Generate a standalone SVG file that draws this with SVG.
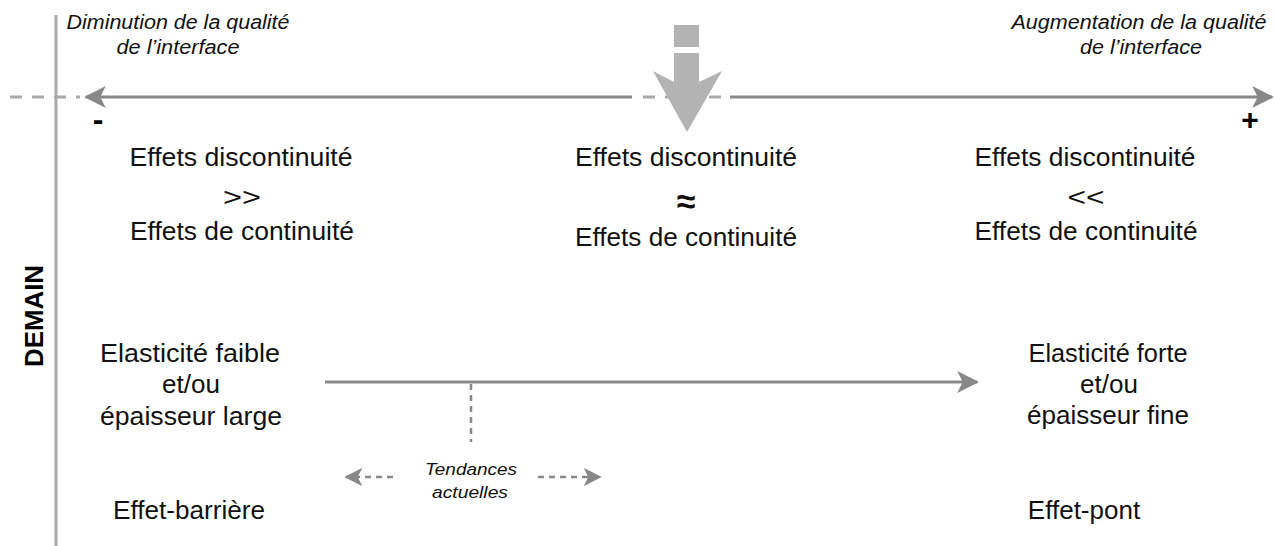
<svg xmlns="http://www.w3.org/2000/svg" width="1276" height="546" viewBox="0 0 1276 546">
<style>
.t{font-family:"Liberation Sans",Arial,sans-serif;font-size:26px;fill:#111;text-anchor:middle}
.i{font-family:"Liberation Sans",Arial,sans-serif;font-size:20px;font-style:italic;fill:#111;text-anchor:middle}
.b{font-family:"Liberation Sans",Arial,sans-serif;font-weight:bold;fill:#000;text-anchor:middle}
.axis{stroke:#888;stroke-width:3;fill:none}
.dash{stroke:#aaa;stroke-width:3;fill:none;stroke-dasharray:12 10}
.tdash{stroke:#888;stroke-width:2.5;fill:none;stroke-dasharray:6 5}
</style>
<defs>
<marker id="ah" viewBox="0 0 20 20" refX="18" refY="10" markerWidth="22" markerHeight="22" markerUnits="userSpaceOnUse" orient="auto">
<path d="M0,0 L20,10 L0,20 L5,10 Z" fill="#888"/>
</marker>
<marker id="ahs" viewBox="0 0 20 20" refX="18" refY="10" markerWidth="18" markerHeight="18" markerUnits="userSpaceOnUse" orient="auto">
<path d="M0,0 L20,10 L0,20 L5,10 Z" fill="#888"/>
</marker>
</defs>
<g id="frame">
<line x1="56" y1="15" x2="56" y2="546" stroke="#aaa" stroke-width="3"/>
</g>
<g id="connectors">
<line class="dash" x1="10" y1="97" x2="80" y2="97"/>
<line class="axis" x1="632" y1="97" x2="86" y2="97" marker-end="url(#ah)"/>
<line class="dash" x1="643" y1="97" x2="728" y2="97" stroke-dasharray="12 62"/>
<line class="axis" x1="730" y1="97" x2="1272" y2="97" marker-end="url(#ah)"/>
<line class="axis" x1="325" y1="382" x2="977" y2="382" marker-end="url(#ah)"/>
<line class="tdash" x1="471" y1="384" x2="471" y2="442"/>
<line class="tdash" x1="393" y1="477" x2="346" y2="477" marker-end="url(#ahs)"/>
<line class="tdash" x1="538" y1="477" x2="600" y2="477" marker-end="url(#ahs)"/>
</g>
<g id="big-arrow" fill="#b3b3b3">
<rect x="674" y="25" width="25" height="22"/>
<polygon points="674,53 699,53 699,82 722,71 687,132 653,71 674,82"/>
</g>
<g id="label-minus">
<text class="i" x="178" y="29" textLength="223" lengthAdjust="spacingAndGlyphs">Diminution de la qualité</text>
<text class="i" x="178" y="54" textLength="123" lengthAdjust="spacingAndGlyphs">de l’interface</text>
<text class="b" x="98" y="130" font-size="32">-</text>
</g>
<g id="label-plus">
<text class="i" x="1139" y="29" textLength="255" lengthAdjust="spacingAndGlyphs">Augmentation de la qualité</text>
<text class="i" x="1141" y="54" textLength="122" lengthAdjust="spacingAndGlyphs">de l’interface</text>
<text class="b" x="1250" y="130" font-size="30">+</text>
</g>
<g id="demain">
<text class="b" font-size="25" transform="translate(43,316) rotate(-90)" x="0" y="0" textLength="102" lengthAdjust="spacingAndGlyphs">DEMAIN</text>
</g>
<g id="left-effects">
<text class="t" x="241" y="166" textLength="223" lengthAdjust="spacingAndGlyphs">Effets discontinuité</text>
<text class="t" x="242" y="206" textLength="38" lengthAdjust="spacingAndGlyphs">&gt;&gt;</text>
<text class="t" x="242" y="240" textLength="224" lengthAdjust="spacingAndGlyphs">Effets de continuité</text>
</g>
<g id="middle-effects">
<text class="t" x="686" y="166" textLength="222" lengthAdjust="spacingAndGlyphs">Effets discontinuité</text>
<text class="t" x="686" y="213" font-weight="bold" style="font-size:34px">≈</text>
<text class="t" x="686" y="246" textLength="222" lengthAdjust="spacingAndGlyphs">Effets de continuité</text>
</g>
<g id="right-effects">
<text class="t" x="1085" y="166" textLength="221" lengthAdjust="spacingAndGlyphs">Effets discontinuité</text>
<text class="t" x="1086" y="206" textLength="37" lengthAdjust="spacingAndGlyphs">&lt;&lt;</text>
<text class="t" x="1086" y="240" textLength="223" lengthAdjust="spacingAndGlyphs">Effets de continuité</text>
</g>
<g id="left-elasticity">
<text class="t" x="190" y="362" textLength="180" lengthAdjust="spacingAndGlyphs">Elasticité faible</text>
<text class="t" x="191" y="393">et/ou</text>
<text class="t" x="191" y="425" textLength="182" lengthAdjust="spacingAndGlyphs">épaisseur large</text>
</g>
<g id="right-elasticity">
<text class="t" x="1108" y="362" textLength="159" lengthAdjust="spacingAndGlyphs">Elasticité forte</text>
<text class="t" x="1109" y="393">et/ou</text>
<text class="t" x="1108" y="424" textLength="162" lengthAdjust="spacingAndGlyphs">épaisseur fine</text>
</g>
<g id="tendances">
<text class="i" x="471" y="475" style="font-size:17px" textLength="92" lengthAdjust="spacingAndGlyphs">Tendances</text>
<text class="i" x="470" y="498" style="font-size:17px" textLength="76" lengthAdjust="spacingAndGlyphs">actuelles</text>
</g>
<g id="barrier">
<text class="t" x="189" y="519" textLength="152" lengthAdjust="spacingAndGlyphs">Effet-barrière</text>
</g>
<g id="bridge">
<text class="t" x="1084" y="519">Effet-pont</text>
</g>
</svg>
